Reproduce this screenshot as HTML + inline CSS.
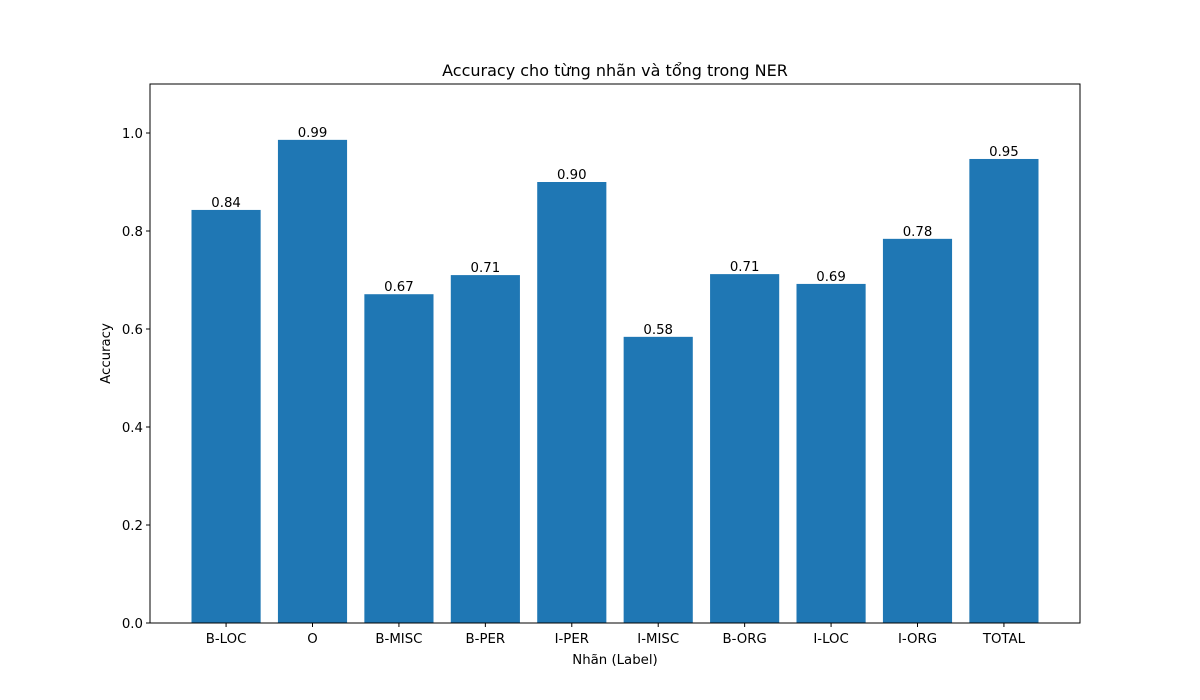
<!DOCTYPE html>
<html><head><meta charset="utf-8"><style>
body{margin:0;background:#fff;}
svg{display:block;font-family:"DejaVu Sans","Liberation Sans",sans-serif;}
</style></head><body>
<svg id="chart" width="1200" height="700"></svg>
<script>
const categories=["B-LOC","O","B-MISC","B-PER","I-PER","I-MISC","B-ORG","I-LOC","I-ORG","TOTAL"];
const accuracyValues=[0.843,0.986,0.671,0.710,0.900,0.584,0.712,0.692,0.784,0.947];
const valueLabels=["0.84","0.99","0.67","0.71","0.90","0.58","0.71","0.69","0.78","0.95"];
const yTicks=[0,0.2,0.4,0.6,0.8,1.0];
const yTickLabels=["0.0","0.2","0.4","0.6","0.8","1.0"];

const svg=document.getElementById('chart');
const NS='http://www.w3.org/2000/svg';
const L=150,R=1080,T=84,B=623;
const yMax=1.1;
const n=categories.length;
const xMin=-0.4-0.049*(n-0.2), xMax=n-1+0.4+0.049*(n-0.2);
const sx=v=>L+(v-xMin)/(xMax-xMin)*(R-L);
const sy=v=>B-v/yMax*(B-T);
function mk(tag,attrs,text){const e=document.createElementNS(NS,tag);for(const k in attrs)e.setAttribute(k,attrs[k]);if(text!==undefined)e.textContent=text;svg.appendChild(e);return e;}
const unit=(R-L)/(xMax-xMin);
categories.forEach((c,i)=>{
  const w=0.8*unit;
  const b=mk('rect',{x:sx(i)-w/2,y:sy(accuracyValues[i]),width:w,height:B-sy(accuracyValues[i]),fill:'#1f77b4'});
  
  
  const t=mk('text',{x:sx(i),y:sy(accuracyValues[i])-3,'text-anchor':'middle','font-size':13.3},valueLabels[i]);
  
  
  const tk=mk('line',{x1:sx(i),x2:sx(i),y1:B,y2:B+4,stroke:'#000'});
  
  
  const tl=mk('text',{x:sx(i),y:B+20,'text-anchor':'middle','font-size':13.3},c);
  
  
});
yTicks.forEach((v,i)=>{
  const tk=mk('line',{x1:L-4,x2:L,y1:sy(v),y2:sy(v),stroke:'#000'});
  
  
  const tl=mk('text',{x:L-7,y:sy(v)+5,'text-anchor':'end','font-size':13.3},yTickLabels[i]);
  
  
});
const frame=mk('rect',{x:L,y:T,width:R-L,height:B-T,fill:'none',stroke:'#000','stroke-width':1});


const title=mk('text',{x:(L+R)/2,y:T-8,'text-anchor':'middle','font-size':16},'Accuracy cho từng nhãn và tổng trong NER');


const xt=mk('text',{x:(L+R)/2,y:664,'text-anchor':'middle','font-size':13.3},'Nhãn (Label)');


const yt=mk('text',{x:110,y:(T+B)/2,'text-anchor':'middle','font-size':13.3,transform:'rotate(-90 110 '+((T+B)/2)+')'},'Accuracy');


</script>
</body></html>
